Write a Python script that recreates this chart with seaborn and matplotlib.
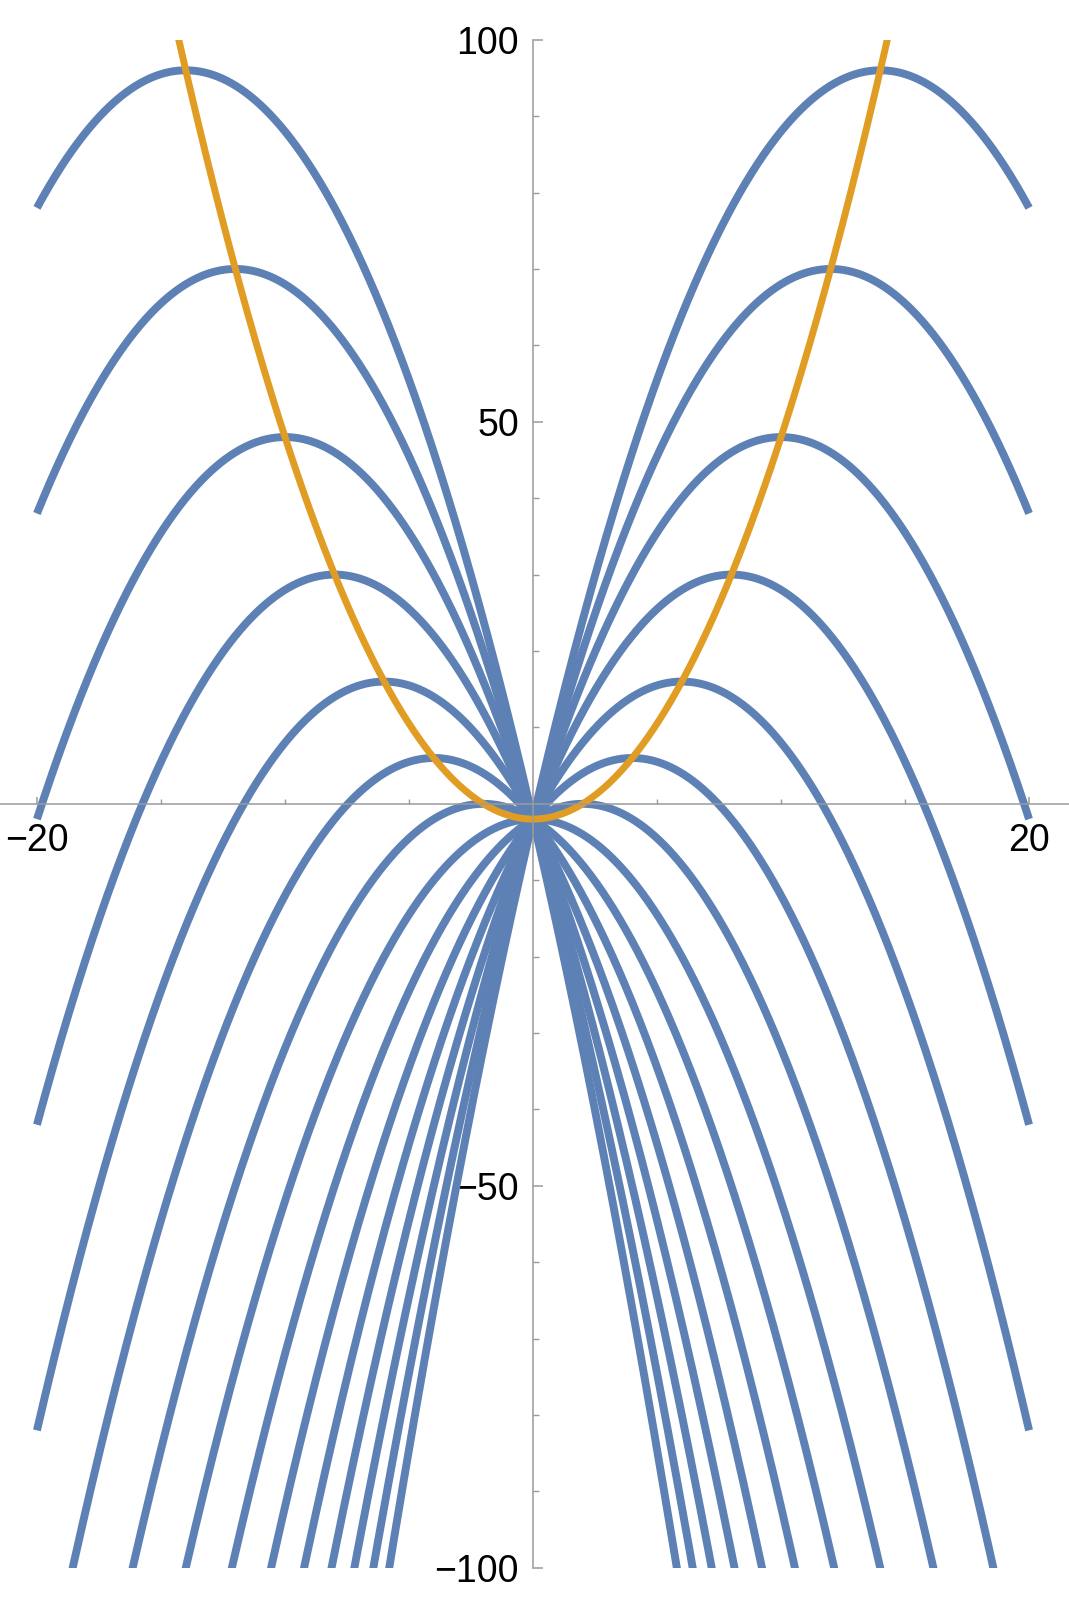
import numpy as np
import pandas as pd
import matplotlib
matplotlib.use("Agg")
import matplotlib.pyplot as plt
from matplotlib.patches import Rectangle
import seaborn as sns

# family of parabolas y = c0 + m*x + c2*x^2, one curve per slope m
slopes = [-14, -12, -10, -8, -6, -4, -2, 0, 2, 4, 6, 8, 10, 12, 14]
curve_c0 = -2.0
curve_c2 = -0.5
# orange curve through the vertices: y = c0 + c2*x^2
vertex_c0 = -2.0
vertex_c2 = 0.5

x_range = [-20, 20]
y_range = [-100, 100]

y_major = [-100, -50, 50, 100]
y_labels = ["\u2212100", "\u221250", "50", "100"]
y_minor = [-90, -80, -70, -60, -40, -30, -20, -10, 10, 20, 30, 40, 60, 70, 80, 90]
x_major = [-20, 20]
x_labels = ["\u221220", "20"]
x_minor = [-15, -10, -5, 5, 10, 15]

BLUE = "#5E81B5"
ORANGE = "#E19C24"
AXIS_GRAY = "#9a9a9a"

xs = np.linspace(x_range[0], x_range[1], 2001)
rows = []
for m in slopes:
    rows.append(pd.DataFrame({"x": xs, "y": curve_c0 + m * xs + curve_c2 * xs**2, "m": m}))
family = pd.concat(rows, ignore_index=True)
vertex_curve = pd.DataFrame({"x": xs, "y": vertex_c0 + vertex_c2 * xs**2})

sns.set_style("white")
plt.rcParams["font.family"] = ["Liberation Sans", "DejaVu Sans"]

fig = plt.figure(figsize=(10.69, 16), dpi=100)
ax = fig.add_axes([0, 0, 1, 1])

sns.lineplot(data=family, x="x", y="y", units="m", estimator=None, sort=False,
             color=BLUE, lw=5.7, solid_capstyle="butt", legend=False, ax=ax)
sns.lineplot(data=vertex_curve, x="x", y="y", estimator=None, sort=False,
             color=ORANGE, lw=5.0, solid_capstyle="butt", legend=False, ax=ax)

# clip curves to the plot range in y
clip = Rectangle((-30, y_range[0]), 60, y_range[1] - y_range[0], transform=ax.transData)
for line in ax.get_lines():
    line.set_clip_path(clip)

ax.set_xlim(-21.49, 21.61)
ax.set_ylim(-104.2, 105.2)
ax.set_xlabel("")
ax.set_ylabel("")

for side in ["top", "right"]:
    ax.spines[side].set_visible(False)
ax.spines["left"].set_position(("data", 0))
ax.spines["left"].set_bounds(y_range[0], y_range[1])
ax.spines["bottom"].set_position(("data", 0))
for side in ["left", "bottom"]:
    ax.spines[side].set_color(AXIS_GRAY)
    ax.spines[side].set_linewidth(1.1)

ax.set_yticks(y_major, labels=y_labels)
ax.set_yticks(y_minor, minor=True)
ax.set_xticks(x_major, labels=x_labels)
ax.set_xticks(x_minor, minor=True)

ax.tick_params(axis="y", which="major", direction="in", length=7, width=1.1,
               color=AXIS_GRAY, labelsize=27, labelcolor="black", pad=10, left=True)
ax.tick_params(axis="y", which="minor", direction="in", length=4, width=1.0,
               color=AXIS_GRAY, left=True)
ax.tick_params(axis="x", which="major", direction="in", length=5, width=1.1,
               color=AXIS_GRAY, labelsize=27, labelcolor="black", pad=14, bottom=True)
ax.tick_params(axis="x", which="minor", direction="in", length=3.5, width=1.0,
               color=AXIS_GRAY, bottom=True)

fig.savefig("out.png", dpi=100)
